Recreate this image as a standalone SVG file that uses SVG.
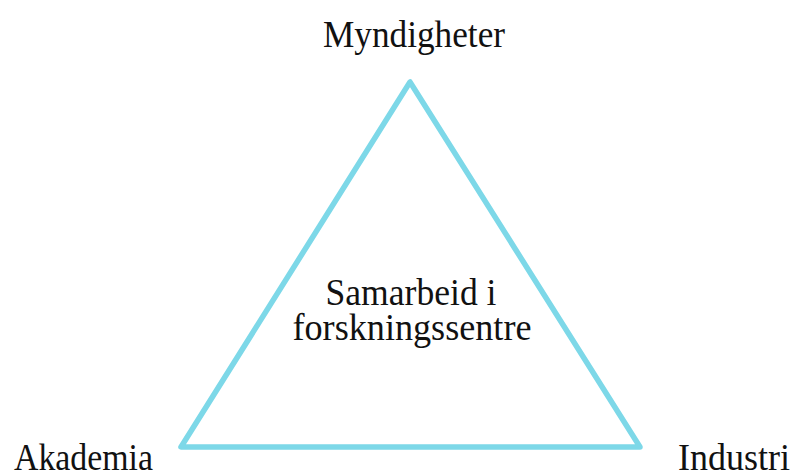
<svg xmlns="http://www.w3.org/2000/svg" width="793" height="475" viewBox="0 0 793 475">
<style>
text{font-family:"Liberation Serif","DejaVu Serif",serif;fill:#111;font-size:37px}
.c{text-anchor:middle}
.edge{fill:none;stroke:#7dd8e8;stroke-width:5.5;stroke-linejoin:round}
</style>
<rect width="793" height="475" fill="#fff"/>
<g id="connectors">
<polygon class="edge" points="410,82 181,447 640,447"/>
</g>
<g id="myndigheter"><text x="414" y="47" class="c" textLength="182" lengthAdjust="spacingAndGlyphs">Myndigheter</text></g>
<g id="akademia"><text x="14" y="470" textLength="139" lengthAdjust="spacingAndGlyphs">Akademia</text></g>
<g id="industri"><text x="678" y="470" textLength="112" lengthAdjust="spacingAndGlyphs">Industri</text></g>
<g id="center">
<text x="411" y="305" class="c" textLength="171" lengthAdjust="spacingAndGlyphs">Samarbeid i</text>
<text x="412" y="340" class="c" textLength="239" lengthAdjust="spacingAndGlyphs">forskningssentre</text>
</g>
</svg>
